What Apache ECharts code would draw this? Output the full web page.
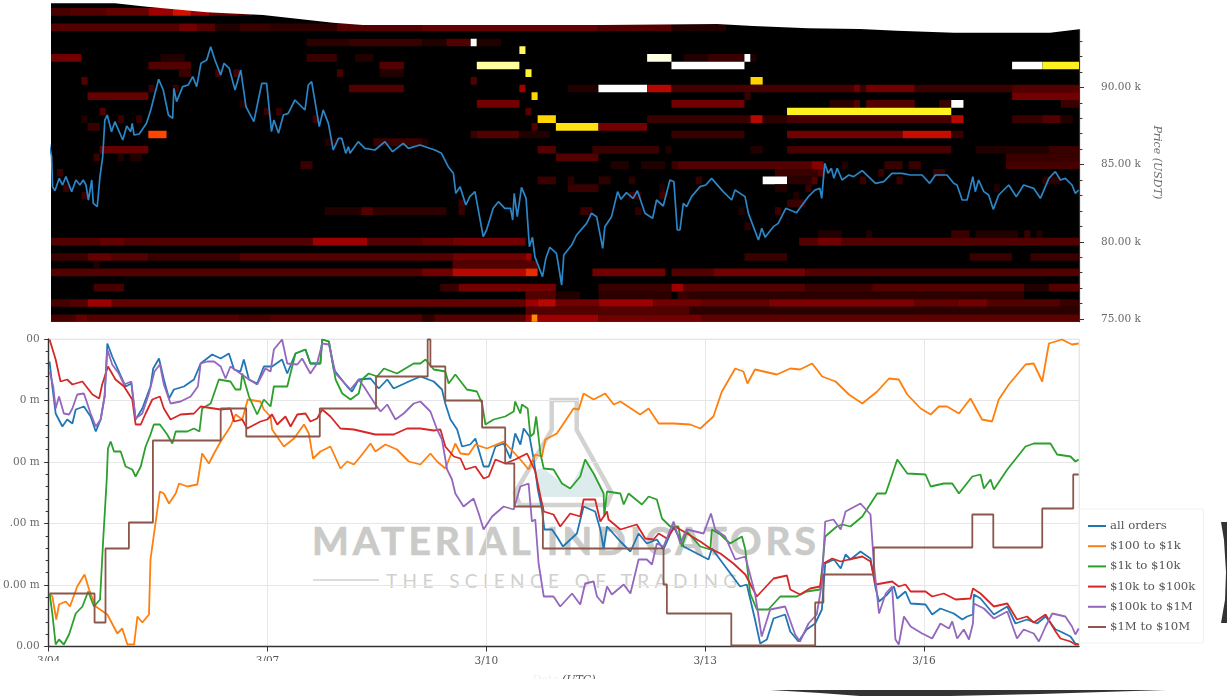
<!DOCTYPE html>
<html><head><meta charset="utf-8">
<script src="https://cdn.jsdelivr.net/npm/echarts@6/dist/echarts.min.js"></script>
<style>
html,body{margin:0;padding:0;background:#fff;width:1227px;height:696px;overflow:hidden}
#chart{position:absolute;left:0;top:0;width:1227px;height:696px;z-index:1}
.wm{position:absolute;white-space:nowrap;color:#cacac8;z-index:0}
#wm1{left:312px;top:517px;font:bold 39px Lato,sans-serif;letter-spacing:3.95px;-webkit-text-stroke:0.7px #cacac8}
#wm2{left:386px;top:569px;font:normal 19px Lato,sans-serif;letter-spacing:5.4px;color:#d0d0ce}
</style></head><body>
<div id="wm1" class="wm">MATERIAL INDICATORS</div>
<div id="wm2" class="wm">THE SCIENCE OF TRADING</div>
<div id="chart"></div>
<script>
// x values are hours since 3/04 00:00 UTC
const xTickLabels = ['3/04','3/07','3/10','3/13','3/16'];
const hoursEnd = 339;
const depthTickLabels = ['0.00','0.00 m','.00 m','00 m','0 m','00'];
const priceMajorTicks = [75000,80000,85000,90000];
const priceMinorTicks = [76000,77000,78000,79000,81000,82000,83000,84000,86000,87000,88000,89000,91000,92000,93000];
const seriesNames = ['all orders','$100 to $1k','$1k to $10k','$10k to $100k','$100k to $1M','$1M to $10M'];
const seriesColors = ['#1f77b4','#ff7f0e','#2ca02c','#d62728','#9467bd','#8c564b'];
const heatPalette = ['#000000','#210000','#390000','#530000','#720000','#9c0000','#d01000','#ff4500','#ffd400','#fff020','#ffffa0','#ffffff'];

// [price level, start hour, end hour, intensity 0..11]
const heatBands = [
[95000,1,7,2.5],[95000,7,19,3],[95000,19,33,3.5],[95000,33,41,5],[95000,41,47,6],[95000,47,53,5],[95000,53,63,4],[95000,63,67,3],
[94000,1,43,3],[94000,43,49,4],[94000,49,55,3],[94000,55,63,1],[94000,63,73,2],[94000,73,95,1.5],[94000,95,123,3],[94000,123,181,3.5],[94000,181,205,3],[94000,205,223,1],
[93000,85,99,1.5],[93000,99,123,2],[93000,123,131,1],[93000,131,139,3],[93000,139,141,11],[93000,141,149,1],
[92500,155,157,9.5],
[92000,1,11,4],[92000,37,45,1],[92000,85,95,2],[92000,101,107,1],[92000,197,205,10.7],[92000,209,217,1],[92000,217,229,2],[92000,229,231,11],[92000,231,233,1],
[91500,33,47,3],[91500,109,117,3],[91500,141,155,10],[91500,205,229,11],[91500,317,327,11],[91500,327,339,9],
[91000,43,47,2],[91000,55,57,2.5],[91000,61,63,2.5],[91000,95,97,2.5],[91000,109,117,1],[91000,157,159,9.2],
[90500,11,13,3],[90500,139,141,3],[90500,231,235,8],
[90000,33,35,2],[90000,41,43,2],[90000,99,117,3],[90000,155,157,5],[90000,171,181,1],[90000,181,197,11],[90000,197,205,5.5],[90000,205,265,2.5],[90000,265,267,4],[90000,267,269,2],[90000,269,285,4],[90000,285,317,2],[90000,317,339,3],
[89500,13,33,3.5],[89500,159,161,8],[89500,229,231,2],[89500,317,339,4],
[89000,63,65,1],[89000,141,155,4],[89000,205,229,4],[89000,257,265,1.5],[89000,265,267,3],[89000,269,285,3],[89000,293,297,2],[89000,297,301,11],[89000,333,339,2],
[88500,17,19,3],[88500,71,73,2],[88500,75,77,2],[88500,157,159,3],[88500,243,297,9],
[88000,11,13,1],[88000,23,25,2],[88000,29,31,2],[88000,87,89,2],[88000,161,167,8],[88000,197,231,2],[88000,231,235,5.5],[88000,235,243,1.5],[88000,243,297,2.5],[88000,297,301,5.5],[88000,317,327,2],[88000,327,333,3],[88000,333,337,1],
[87500,13,17,2],[87500,159,161,3],[87500,167,181,8.5],[87500,181,197,4],
[87000,33,39,7],[87000,139,141,2],[87000,141,155,3],[87000,155,165,1],[87000,205,229,2],[87000,243,281,4],[87000,281,297,5.8],[87000,297,301,2],
[86500,91,95,1],[86500,107,123,2],[86500,123,125,1],
[86000,17,33,3.5],[86000,161,167,3],[86000,179,201,2],[86000,203,205,1],[86000,231,235,1],[86000,243,297,2.5],[86000,305,329,1],[86000,329,339,2],
[85500,15,17,2],[85500,23,25,1],[85500,27,31,1],[85500,167,181,3],[85500,315,339,2],
[85000,83,87,2],[85000,185,191,1],[85000,195,203,1],[85000,205,207,2],[85000,207,251,3],[85000,251,255,4.5],[85000,261,263,1],[85000,275,281,2],[85000,283,287,2],[85000,315,339,2.5],
[84500,3,5,2],[84500,239,253,2],[84500,253,255,3],[84500,273,275,2],[84500,291,295,2],
[84000,161,167,2],[84000,171,173,1.5],[84000,181,185,1.5],[84000,191,193,1.5],[84000,213,215,2],[84000,235,243,11],[84000,243,251,1.5],[84000,251,253,3],[84000,267,269,2],[84000,279,281,2],[84000,327,333,1.5],
[83500,5,7,2],[83500,171,181,2],[83500,201,203,1],[83500,239,243,1],[83500,249,251,2],[83500,311,313,1],
[83000,11,13,2],[83000,191,195,2],[83000,201,203,2],[83000,245,247,1],
[82500,135,137,2],[82500,243,249,2],
[82000,91,103,1],[82000,103,107,3],[82000,107,131,1.5],[82000,135,137,2],[82000,175,179,2],[82000,193,195,1.5],[82000,227,229,1],[82000,239,241,2],
[81000,229,231,1.5],
[80500,253,261,1],[80500,269,271,1],[80500,297,303,2],[80500,305,319,1],[80500,321,323,2],[80500,325,327,1],
[80000,1,17,3],[80000,17,25,3.5],[80000,25,87,3],[80000,87,105,5],[80000,105,123,3],[80000,123,133,3.5],[80000,133,157,4],[80000,247,253,3],[80000,253,261,4],[80000,261,339,3],
[79000,1,13,2],[79000,13,21,3.5],[79000,21,33,3],[79000,33,63,2],[79000,63,133,3],[79000,133,157,4],[79000,157,159,5],[79000,229,243,2],[79000,303,317,2],[79000,323,339,2],
[78500,15,17,1],[78500,133,161,3],
[78000,1,123,3],[78000,123,133,4],[78000,133,157,5.5],[78000,157,161,6.5],[78000,179,203,4],[78000,205,219,3],[78000,219,249,4],[78000,249,339,3],
[77000,15,25,2.5],[77000,129,135,2],[77000,135,167,4],[77000,181,205,2],[77000,205,209,5],[77000,209,249,3],[77000,249,271,2],[77000,271,321,3],[77000,321,329,1],[77000,329,339,3],
[76500,157,167,3],[76500,167,175,1],[76500,181,205,1.5],[76500,207,211,2],[76500,211,321,1.5],
[76000,1,7,2.5],[76000,7,13,3],[76000,13,21,5],[76000,21,157,3.5],[76000,157,161,5],[76000,161,167,5.5],[76000,167,181,4],[76000,181,199,5],[76000,199,215,4],[76000,215,237,3.5],[76000,237,285,4.3],[76000,285,299,3.5],[76000,299,309,4],[76000,309,333,3],[76000,333,339,2],
[75500,157,211,3],[75500,211,339,1.5],
[75000,1,9,2.5],[75000,9,13,3.5],[75000,13,63,3],[75000,63,73,2.5],[75000,73,123,3],[75000,123,127,1.5],[75000,127,157,3],[75000,157,159,5],[75000,159,161,7.5],[75000,161,181,5],[75000,181,215,4],[75000,215,339,3.3]
];

const priceLine = [[0.4,86372],[1.2,85510],[1.5,83567],[2.3,83308],[3.7,84107],[4.8,83675],[5.9,84215],[7.8,83244],[9.2,83999],[10.5,83675],[11.6,83999],[12.5,83675],[13.3,82704],[14.4,83999],[14.9,82488],[16.2,82272],[17.1,84215],[18,85510],[18.7,87883],[19.5,88207],[20.9,87128],[22,87775],[24.6,86588],[25.9,87495],[27.2,87128],[27.7,87667],[28.3,86912],[30,86977],[32.4,87667],[33.8,88530],[35.2,89610],[36.4,90516],[37.9,89825],[39.6,88207],[41,87991],[41.4,89933],[42.3,89070],[44.3,90041],[46.1,90149],[47.6,90689],[48.9,90041],[50.3,91552],[52.2,91768],[53.5,92631],[54.9,91768],[56.8,90796],[57.9,91552],[59.6,91228],[61.5,89825],[63.4,91120],[65.1,88746],[67.7,87775],[69.5,89502],[70.3,90257],[71.9,90257],[73.5,87128],[74.3,87883],[75.8,87020],[77.4,88207],[79,88315],[81.2,89178],[84.5,88530],[85.6,90149],[86.7,90365],[89.2,87451],[90.5,88530],[92.2,87667],[93.8,85941],[95.5,86696],[96.6,86696],[97.9,85725],[98.8,86157],[99.3,85725],[102,86480],[104.2,86049],[107.5,85941],[110.8,86480],[113.3,85833],[116.8,86372],[118.5,86049],[122.3,86264],[127.2,85941],[129.4,85725],[131.6,84862],[133.3,84430],[134.1,83135],[135.5,83567],[137.4,82380],[138.7,82920],[140.4,83244],[143.1,80330],[144.2,80762],[146.4,82165],[148.1,82596],[150.2,82165],[152.1,82165],[152.8,81409],[153.3,83135],[154.3,81625],[155.7,83524],[157.2,82812],[158.3,79683],[159.3,80287],[160.1,79036],[162.6,77741],[163.7,78928],[165,79640],[167.2,79252],[168.9,77201],[169.6,79143],[172.2,79790],[173.8,80438],[177.1,81193],[178.7,81841],[180.4,81625],[182.4,79575],[183.1,80978],[184.2,81301],[185.3,81625],[187.3,83244],[188.4,82747],[190.2,83179],[192.4,82812],[193.8,83308],[196.3,81841],[198.8,81517],[200.1,82704],[202.3,82316],[204.5,83999],[205.8,83891],[206.9,80762],[207.8,80762],[208.9,82488],[210,82272],[211.6,82920],[214.4,83567],[216.3,83675],[218.2,84107],[222,83244],[224.8,82704],[225.9,83351],[229.2,82920],[230.3,81841],[233.6,80114],[234.7,80870],[235.8,80287],[238.5,80978],[240.1,81193],[242.6,82165],[246.1,81884],[250,82920],[252.2,83351],[253.8,83459],[254.4,82812],[255.4,85078],[256.5,84430],[257.6,84754],[258.4,84107],[259.5,84754],[261.1,83999],[263.3,84322],[264.9,84215],[267.7,84603],[272.1,83783],[274.8,83891],[277.5,84430],[280.8,84430],[283.6,84322],[287.4,84322],[289.9,83783],[291.8,84322],[295.6,84322],[297.8,83783],[298.9,83675],[300.6,82704],[302.2,82704],[304.1,84215],[304.9,83244],[306,83999],[307.7,83244],[309.3,83028],[310.8,82100],[312.6,83028],[315.9,83675],[318.4,82920],[320.8,83675],[324.1,83459],[326.3,82812],[329.1,84107],[331.2,84538],[332.9,83999],[334.5,84107],[336.7,83675],[337.8,83135],[338.9,83351]];

const allOrders = [[0.3,285],[1.2,260],[2.3,233],[4.5,220],[6.1,227],[7.8,223],[8.9,237],[11.6,240],[13.8,230],[15.5,215],[17.1,227],[18.4,250],[19.3,303],[20.9,290],[23.1,275],[25.3,260],[27.2,263],[28.6,227],[30.8,238],[33.5,260],[34.4,278],[36.3,288],[37.9,267],[39.6,248],[41.2,257],[44.5,260],[47.8,267],[50,283],[53.8,292],[56.6,288],[59.3,293],[61,277],[63.1,275],[64.2,287],[65.9,267],[68.6,263],[70.8,280],[73.5,280],[76.8,287],[78.5,273],[81.2,293],[84.5,297],[86.1,283],[89.4,283],[90,307],[92.2,305],[93.8,277],[98.2,260],[99.8,255],[102,267],[105.9,268],[108.6,258],[111.4,267],[113.5,258],[118.5,265],[122.3,270],[126.7,265],[129.4,257],[130.5,243],[132.2,227],[134.4,217],[136,200],[138.7,202],[140.4,208],[143.1,180],[144.8,180],[147,200],[149.7,203],[151.9,188],[153.5,213],[155.2,202],[156.3,218],[158.2,210],[159.6,187],[160.9,158],[162.3,137],[163.1,117],[165.6,117],[167.2,110],[169.2,100],[173.8,113],[176,140],[179.8,135],[181.5,117],[182.6,98],[183.7,120],[188.1,105],[191.4,95],[194.1,113],[196.8,103],[200.1,107],[202.3,97],[205.6,120],[208.9,100],[213.3,93],[217.1,87],[218.2,98],[222.6,80],[227.5,60],[229.7,62],[232.4,27],[234.1,3],[236.3,7],[238.5,28],[242.3,32],[244,15],[246.7,5],[249.4,17],[252.2,23],[254.4,37],[255.5,83],[258.4,87],[260.6,78],[262.2,92],[263.8,87],[267.1,95],[270.4,88],[272.1,58],[273.2,45],[275.9,52],[278.1,60],[279.2,48],[281.9,55],[283.6,43],[288.5,42],[290.7,32],[293.4,38],[297.8,33],[300.6,27],[302.2,30],[304.1,32],[304.4,52],[306.6,48],[311,32],[315.4,40],[318.1,23],[321.9,27],[325.2,23],[328,30],[331.3,17],[332.9,15],[336.2,10],[337.8,3],[338.9,2]];

const orders100to1k = [[0.3,53],[1.2,50],[2.5,27],[3.4,42],[5.6,45],[7,40],[9.4,60],[11.8,72],[13.3,57],[15.5,40],[19.3,32],[22.6,13],[24.2,18],[25.9,2],[28.1,2],[29.2,30],[30.8,24],[33,32],[33.5,87],[34.4,107],[36.6,155],[37.9,153],[39.6,143],[41.8,153],[42.9,163],[45.6,160],[48.9,162],[50.5,193],[52.7,183],[54.4,193],[56.6,205],[59.8,220],[61.5,232],[63.7,227],[65.5,247],[69.7,245],[70.8,237],[73,230],[73.5,217],[77.4,200],[80.7,208],[84,222],[85.6,213],[87,188],[89.4,195],[92.7,200],[96,178],[98.2,185],[100.4,182],[102.6,190],[105.9,203],[107.5,195],[110.8,202],[114.6,197],[118.5,185],[122.3,182],[125.6,193],[127.8,185],[130.5,178],[133.8,203],[135.5,193],[138.2,192],[140.4,202],[144.2,198],[149.7,205],[155.2,187],[157.9,177],[160.1,192],[162.3,190],[163.4,207],[167.2,213],[172.7,238],[174.4,237],[176,253],[179.3,247],[183.1,253],[185.9,242],[188.1,245],[194.6,232],[197.4,238],[200.7,223],[205.6,223],[211.1,222],[214.4,218],[218.7,230],[221.5,255],[225.9,278],[228.6,275],[229.9,263],[232.4,277],[239.6,272],[244,278],[247.2,277],[251.2,283],[254.5,270],[258.9,265],[263.3,252],[267.7,243],[272.6,255],[276.5,268],[279.7,267],[282.5,252],[286.9,238],[290.2,232],[292.9,240],[295.6,240],[299.5,233],[303.3,248],[307.1,227],[310.4,225],[312.6,247],[315.9,262],[321.4,282],[324.1,283],[326.9,265],[329.1,303],[333.4,307],[336.7,302],[338.9,303]];

const orders1kto10k = [[0.3,53],[1.2,33],[2.3,2],[3.4,7],[5,2],[6.7,12],[8.9,33],[11.1,40],[13,55],[14.9,40],[16.9,47],[18,110],[19.1,167],[19.5,198],[20.4,205],[21.5,195],[23.7,195],[25.3,180],[27.5,177],[28.6,170],[30.3,180],[31.9,200],[33.5,212],[34.6,222],[36.6,222],[39,212],[40.7,203],[41.8,215],[45.6,215],[47.8,218],[49.6,215],[50.5,238],[53.3,243],[56,267],[59.8,265],[61.5,257],[63.1,257],[63.7,273],[65.9,250],[68.6,232],[70.8,247],[73,240],[74.1,260],[78.5,260],[81.2,293],[84.5,297],[86.1,283],[89.4,283],[90,307],[92.2,305],[94.4,267],[96.6,253],[99.3,247],[102,253],[103.1,267],[105.3,273],[108.1,270],[110.3,278],[114.6,273],[120.1,283],[122.3,283],[124,287],[126.7,277],[130.5,275],[131.6,263],[133.8,272],[137.6,257],[140.9,255],[142.6,243],[143.7,222],[146.4,227],[150.2,230],[153,235],[153.5,245],[155.2,233],[155.7,242],[157.6,238],[158.5,210],[159.6,213],[160.4,230],[161.8,193],[162.9,178],[166.1,177],[168.9,163],[171.6,158],[174.9,170],[176.5,187],[179.3,173],[182.6,153],[182.8,130],[183.7,155],[188.1,153],[189.2,142],[190.8,153],[195.2,142],[197.4,150],[200.1,147],[201.8,128],[204.5,120],[207.2,120],[208.3,100],[210,115],[214.4,100],[217.7,97],[218.2,117],[221,112],[224.2,103],[228.1,110],[229.2,97],[230.8,53],[233,37],[236.8,37],[240.7,50],[246.1,50],[249.4,55],[253.8,57],[255.5,110],[259.3,120],[261.1,122],[263.8,120],[267.7,130],[272.6,153],[275.4,153],[278.1,177],[279.2,187],[282.5,173],[288.5,172],[290.2,160],[294.5,163],[297.3,163],[299.5,153],[303.9,170],[306.6,172],[307.7,158],[309.9,167],[311,157],[315.4,177],[321.4,200],[324.1,203],[329.6,203],[331.8,192],[336.2,190],[337.8,185],[338.9,187]];

const orders10kto100k = [[0.3,307],[2.3,287],[3.9,265],[6.1,267],[7.8,262],[11.1,265],[14.4,252],[16.6,248],[17.6,262],[19.5,280],[22,267],[24.8,260],[27.5,247],[28.6,222],[30.3,222],[31.9,233],[34.1,247],[36.6,250],[37.9,238],[40.1,227],[43.4,232],[47.8,233],[50,240],[56.6,237],[59.8,238],[61,225],[63.7,227],[65.3,218],[69.7,225],[71.9,227],[73.5,232],[75.2,222],[77.9,230],[79.6,220],[81.8,232],[84.5,233],[86.1,225],[88.3,228],[90,237],[92.7,230],[96,218],[100.4,217],[107.5,212],[113.5,212],[117.9,218],[122.3,218],[126.7,216],[128.9,217],[130.5,200],[133.3,190],[135.5,188],[137.1,177],[140.4,180],[143.1,168],[144.8,170],[147,187],[150.2,183],[153.5,187],[157.4,193],[160.1,175],[161.8,150],[162.9,135],[166.1,132],[168.3,120],[171.6,133],[174.9,130],[176,147],[179.8,147],[181.5,125],[183.7,135],[184.2,127],[188.1,117],[193.5,122],[196.3,108],[199,107],[200.7,113],[203.4,108],[206.1,120],[210,113],[214.4,105],[217.7,98],[221,93],[225.3,83],[229.2,72],[233,50],[238.5,68],[242.9,71],[244,57],[247.2,52],[250.5,58],[253.8,60],[254.9,83],[257.8,88],[260.6,85],[263.3,87],[267.7,90],[270.4,85],[272.1,62],[277.5,65],[279.7,60],[281.9,62],[283.6,55],[288.5,55],[290.7,50],[294.5,53],[298.4,47],[303.3,48],[304.1,58],[306.6,53],[311,40],[315.4,43],[318.6,27],[321.9,30],[324.1,24],[328,32],[331.3,15],[332.9,8],[336.2,5],[337.8,2],[338.9,2]];

const orders100kto1M = [[0.3,275],[1.5,260],[2.3,238],[3.4,250],[5,233],[6.7,232],[7.8,238],[9.4,252],[11.6,253],[13.8,233],[15.5,220],[17.1,227],[18.4,250],[19.3,297],[20.9,282],[23.1,273],[24.8,262],[27.2,265],[28.6,228],[30.8,233],[33,253],[34.8,275],[36.6,282],[37.9,262],[40.1,243],[43.4,245],[46.7,250],[49.1,260],[50,283],[52.2,285],[54.4,285],[56.6,280],[58.2,268],[59.8,280],[63.1,273],[65.9,267],[68.6,262],[71.3,278],[73,275],[74.1,297],[76.8,307],[78.5,283],[81.8,282],[83.4,288],[86.1,273],[88.3,283],[90,303],[92.2,302],[94.4,273],[99.3,257],[102,267],[103.7,260],[107.5,242],[109.2,235],[111.4,242],[114.1,227],[116.8,233],[120.1,243],[122.3,245],[125.6,235],[127.8,217],[129.4,207],[131.1,177],[132.7,167],[133.8,153],[136.5,140],[139.8,148],[141.5,133],[143.1,117],[145.9,130],[149.7,140],[153,137],[155.2,160],[157.9,163],[159,125],[160.1,127],[161.2,83],[162.9,50],[166.1,50],[168.3,40],[172.2,53],[174.9,42],[176.5,63],[179.3,65],[180.4,50],[182.4,43],[183.7,60],[185.3,52],[189.2,62],[191.4,53],[194.1,87],[196.8,87],[198.5,82],[200.1,103],[202.3,100],[205.6,125],[207.8,103],[210,117],[215.5,113],[217.9,133],[219.3,117],[222.6,110],[225.9,87],[229.2,90],[232.4,53],[234.6,10],[237.4,37],[242.3,40],[245.6,12],[247.2,5],[250,23],[252.7,32],[254.4,63],[255.5,125],[258.2,127],[260.6,117],[262.2,135],[267.1,143],[270.4,132],[271.5,83],[273.2,33],[275.4,53],[277.5,60],[278.6,7],[279.7,2],[281.4,30],[283.6,20],[287.4,13],[290.7,8],[293.4,23],[296.2,18],[297.3,25],[298.9,8],[301.1,17],[302.8,7],[304.1,23],[304.4,43],[307.7,38],[311,28],[315.4,35],[318.6,8],[320.8,17],[324.1,13],[325.8,5],[328,20],[330.2,33],[334.5,30],[336.7,20],[337.8,12],[338.9,18]];

const orders1Mto10M = [[0.3,53],[15.1,24],[18.7,98],[26.4,124],[34.3,206],[56.6,238],[65,210],[89.2,238],[107.7,270],[124.7,307],[125.6,280],[130.5,246],[142.6,219],[150.2,183],[153.2,140],[162.6,98],[202.3,62],[203.4,33],[224.6,1],[252.2,44],[254.9,72],[271.5,99],[303.9,132],[310.8,99],[326.9,138],[337.1,172],[338.9,172]];

const chart = echarts.init(document.getElementById('chart'), null, {renderer:'canvas'});
const serif = '"DejaVu Serif", serif';
const labelGrey = '#6a6a6a';
const lineOf = (i, data, extra) => Object.assign({
  name: seriesNames[i], type:'line', xAxisIndex:1, yAxisIndex:3, data, showSymbol:false, symbol:'none',
  lineStyle:{width:1.8,color:seriesColors[i]}, itemStyle:{color:seriesColors[i]}, animation:false, z:3+i, clip:true
}, extra||{});

chart.setOption({
  animation:false,
  grid:[
    {left:51,right:148,top:3,height:318.7,show:true,backgroundColor:'#000',borderWidth:0},
    {left:48,right:148,top:339,height:307.5,show:true,borderColor:'#ececec',borderWidth:1}
  ],
  xAxis:[
    {type:'value',gridIndex:0,min:1,max:hoursEnd,show:false},
    {type:'value',gridIndex:1,min:0,max:hoursEnd,interval:72,
     axisLine:{onZero:false,lineStyle:{color:'#333',width:1.4}},
     axisTick:{show:true,length:5,lineStyle:{color:'#333'}},
     axisLabel:{color:'#555',fontFamily:serif,fontSize:10.5,margin:9,showMaxLabel:false,
       formatter:v=>xTickLabels[Math.round(v/72)]||''},
     splitLine:{show:true,lineStyle:{color:'#e6e6e6'}},
     name:'Date (UTC)',nameLocation:'middle',nameGap:28,nameTextStyle:{color:'#555',fontFamily:serif,fontSize:11,fontStyle:'italic'}}
  ],
  yAxis:[
    {type:'value',gridIndex:0,position:'right',min:74825,max:95458,
     axisLine:{show:true,lineStyle:{color:'#333',width:1.2}},
     axisTick:{show:true,length:5,customValues:priceMajorTicks,lineStyle:{color:'#333'}},
     axisLabel:{show:true,customValues:priceMajorTicks,margin:22,color:labelGrey,fontFamily:serif,fontSize:10.5,
       formatter:v=>(v/1000).toFixed(2)+' k'},
     splitLine:{show:false},
     name:'Price (USDT)',nameLocation:'middle',nameRotate:-90,nameGap:62,
     nameTextStyle:{color:labelGrey,fontFamily:serif,fontSize:11,fontStyle:'italic'}},
    {type:'value',gridIndex:0,position:'right',min:74825,max:95458,
     axisLine:{show:false},axisLabel:{show:false},splitLine:{show:false},
     axisTick:{show:true,length:3.4,customValues:priceMinorTicks,lineStyle:{color:'#333'}}},
    {type:'value',gridIndex:0,position:'right',min:74778,max:95581,show:false,splitLine:{show:false}},
    {type:'value',gridIndex:1,min:0,max:307.5,interval:61.5,
     axisLine:{show:true,onZero:false,lineStyle:{color:'#333',width:1.4}},
     axisTick:{show:true,length:4.5,lineStyle:{color:'#333'}},
     minorTick:{show:true,splitNumber:5,length:3,lineStyle:{color:'#333'}},
     axisLabel:{color:labelGrey,fontFamily:serif,fontSize:10.5,margin:9,
       formatter:v=>depthTickLabels[Math.round(v/61.5)]},
     splitLine:{show:true,lineStyle:{color:'#e6e6e6'}}}
  ],
  legend:{
    left:1079,top:509,orient:'vertical',data:seriesNames,padding:[11,8,10,9],itemGap:8.2,
    itemWidth:18,itemHeight:2,icon:'rect',
    borderColor:'#f1f1f1',borderWidth:1,
    textStyle:{color:'#555',fontFamily:serif,fontSize:11.7,padding:[0,0,0,-1]}
  },
  graphic:[
    {type:'polygon',z:100,silent:true,shape:{points:[[49,0],[49,3.3],[115,3.3],[147,6.7],[207,12.3],[263,15],[333,22.7],[363,25],[603,25],[717,24],[753,26],[808,28.3],[860,29],[897,30.7],[954,32.7],[1050,32.7],[1081,29],[1081,0]]},style:{fill:'#fff'}},
    {type:'rect',z:100,silent:true,shape:{x:0,y:661,width:400,height:20},style:{fill:'#fff'}},
    {type:'rect',z:100,silent:true,shape:{x:500,y:679,width:130,height:10},style:{fill:'#fff'}},
    {type:'rect',z:100,silent:true,shape:{x:500,y:666,width:62,height:14},style:{fill:'#fff',opacity:0.9}},
    {type:'polygon',z:0,silent:true,shape:{points:[[535,470],[543,468],[562,483],[570,488],[585,460],[593,473],[605,497],[538,497]]},style:{fill:'#dcecec'}},
    {type:'polygon',z:0,silent:true,shape:{points:[[551.7,400],[576.7,400],[576.7,430],[611.7,493],[606.7,505],[520,505],[515,493],[551.7,430]]},style:{fill:'none',stroke:'#d2d2d0',lineWidth:4.5}},
    {type:'line',z:0,silent:true,shape:{x1:313,y1:580,x2:379,y2:580},style:{stroke:'#d2d2d0',lineWidth:1.5}},
    {type:'polygon',z:100,silent:true,shape:{points:[[1221,522],[1224,540],[1226,572],[1225,600],[1221,623],[1227,623],[1227,522]]},style:{fill:'#333'}},
    {type:'polygon',z:100,silent:true,shape:{points:[[770,690],[1166,690],[1040,694],[950,696],[860,696],[820,693]]},style:{fill:'#333'}}
  ],
  series:[
    {type:'custom',xAxisIndex:0,yAxisIndex:2,data:heatBands,clip:true,silent:true,z:1,
     encode:{x:[1,2],y:0},
     renderItem:(params,api)=>{
       const a=api.coord([api.value(1),api.value(0)]), b=api.coord([api.value(2),api.value(0)]);
       const h=api.size([0,500])[1];
       return {type:'rect',shape:{x:a[0],y:a[1]-h/2,width:b[0]-a[0],height:h},
         style:{fill:echarts.color.lerp(api.value(3)/(heatPalette.length-1),heatPalette)}};
     }},
    {name:'price',type:'line',xAxisIndex:0,yAxisIndex:0,data:priceLine,showSymbol:false,symbol:'none',clip:false,z:2,
     lineStyle:{width:1.7,color:'#2b86c7'}},
    lineOf(0,allOrders),lineOf(1,orders100to1k),lineOf(2,orders1kto10k),lineOf(3,orders10kto100k),lineOf(4,orders100kto1M),
    lineOf(5,orders1Mto10M,{step:'end'})
  ]
});
</script></body></html>
